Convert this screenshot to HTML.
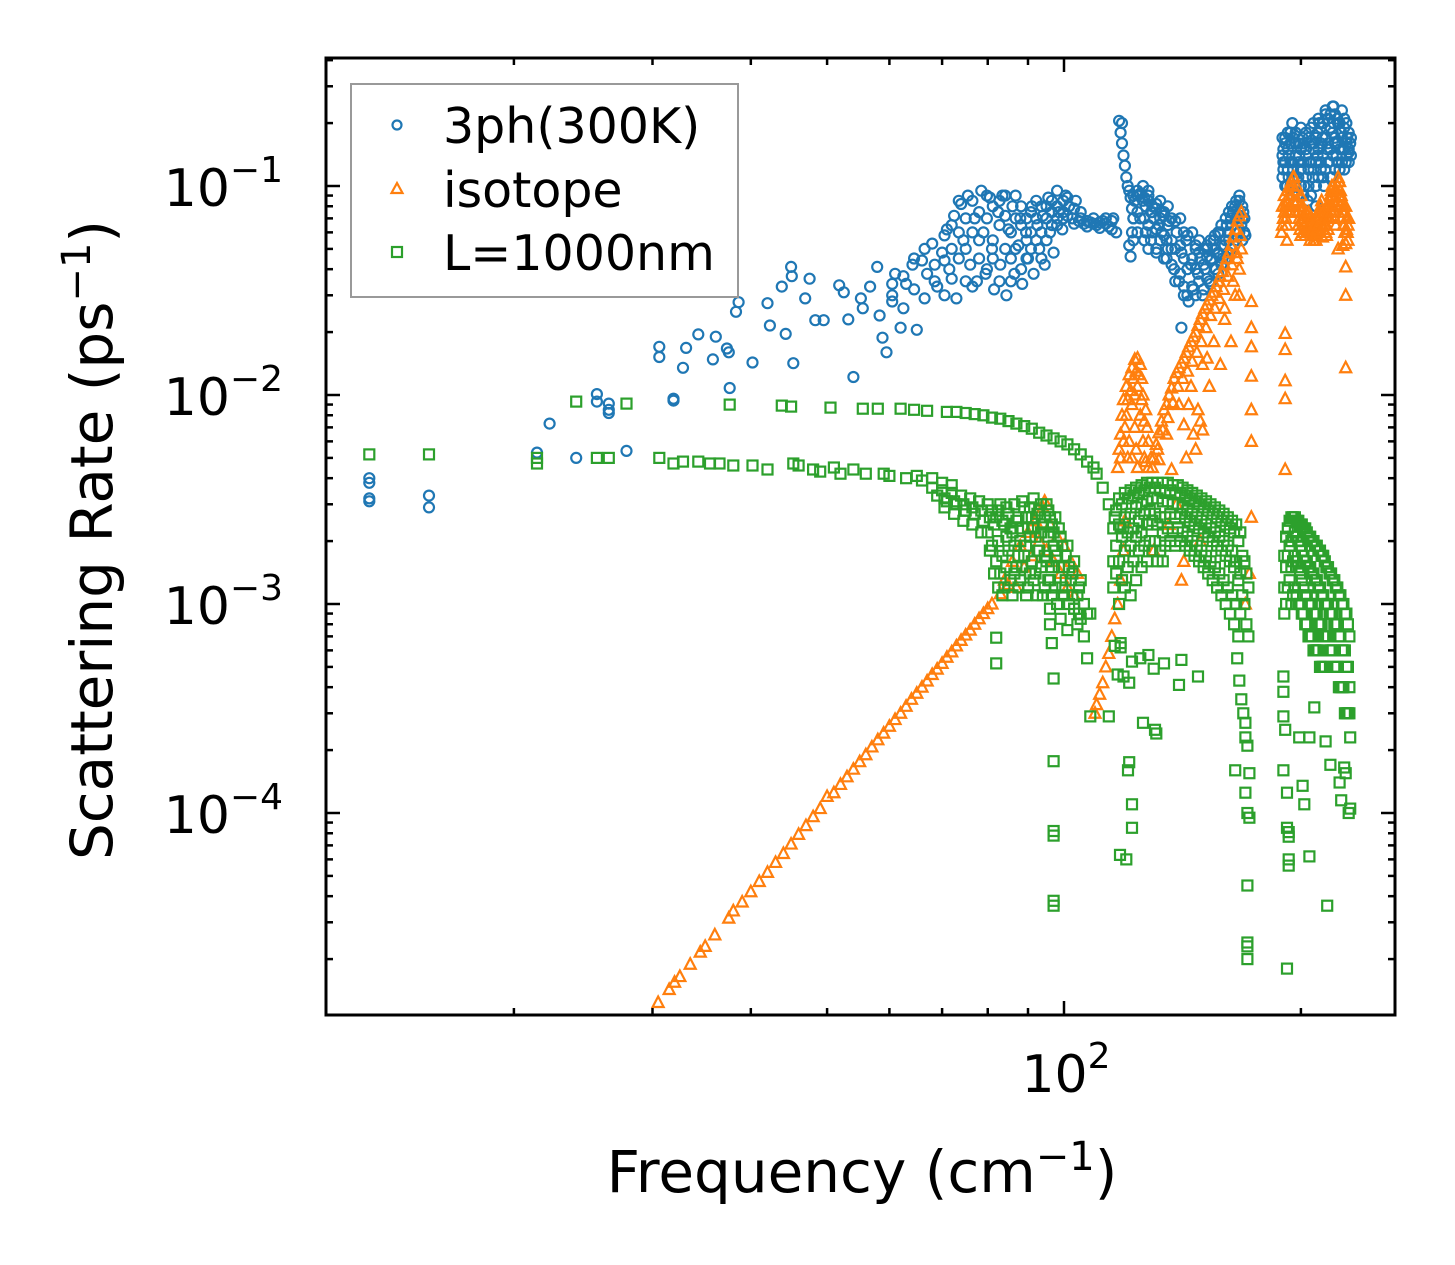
<!DOCTYPE html>
<html>
<head>
<meta charset="utf-8">
<style>
html,body{margin:0;padding:0;background:#fff;}
svg{display:block;}
text{font-family:"DejaVu Sans","Liberation Sans",sans-serif;fill:#000;}
</style>
</head>
<body>
<svg id="chart" width="1455" height="1265" viewBox="0 0 1455 1265" xmlns="http://www.w3.org/2000/svg">
  <rect x="0" y="0" width="1455" height="1265" fill="#fff"/>
  <g id="series"></g>
  <g id="axes"></g>
  <text x="862" y="1192" font-size="58" text-anchor="middle">Frequency (cm<tspan font-size="40" dy="-22">−1</tspan><tspan dy="22">)</tspan></text>
  <text transform="translate(112,540) rotate(-90)" font-size="58" text-anchor="middle">Scattering Rate (ps<tspan font-size="40" dy="-22">−1</tspan><tspan dy="22">)</tspan></text>
  <g>
    <rect x="351" y="84" width="387" height="213" fill="#fff" stroke="#999" stroke-width="2"/>
    <circle cx="397" cy="125" r="4.5" fill="none" stroke="#1f77b4" stroke-width="2.2"/>
    <text x="443" y="143" font-size="49">3ph(300K)</text>
    <polygon points="397,183 402.5,193 391.5,193" fill="none" stroke="#ff7f0e" stroke-width="2.2"/>
    <text x="443" y="207" font-size="49">isotope</text>
    <rect x="392" y="247" width="10" height="10" fill="none" stroke="#2ca02c" stroke-width="2.2"/>
    <text x="443" y="270" font-size="49">L=1000nm</text>
  </g>
</svg>
<script>
const threePh = [[13.1,.0040],[13.1,.0038],[13.1,.0032],[13.1,.0031],[15.6,.0033],[15.6,.0029],
[21.4,.0053],[22.2,.0073],[24.0,.0050],[25.5,.0101],[25.5,.0093],[26.4,.0091],[26.4,.0085],[26.4,.0082],[27.8,.0054],
[30.6,.0170],[30.6,.0152],[31.9,.0096],[31.9,.0094],[32.8,.0135],[33.1,.0168],[34.3,.0195],[35.8,.0148],[36.1,.0190],[37.3,.0167],[37.5,.0160],[37.6,.0108],[38.3,.0250],[38.6,.0278],[40.2,.0143],[42.0,.0275],[42.3,.0215],[43.8,.0330],[44.3,.0196],[45.0,.0410],[45.1,.0370],[45.3,.0142],[46.9,.0290],[47.5,.0360],[48.3,.0228],[49.5,.0228],[51.8,.0335],[52.5,.0310],[53.2,.0230],[54.0,.0122],[55.2,.0290],[55.5,.0260],[56.7,.0330],[57.9,.0410],[58.3,.0240],[58.8,.0188],[59.5,.0160],[60.5,.0300],[61.0,.0380],[62.0,.0210],[63.0,.0340],[64.2,.0420],[65.0,.0205],[66.0,.0440],[67.0,.0380],[68.0,.0530],[69.0,.0330],[70.0,.0480],[71.0,.0620],[71.5,.0400],[72.5,.0720],[73.0,.0290],[74.0,.0820],[74.5,.0550],[75.5,.0900],[76.0,.0420],[77.0,.0700],[77.5,.0350],[78.5,.0950],[79.0,.0600],[79.5,.0380],[80.5,.0880],[81.0,.0500],[81.5,.0320],[82.5,.0750],[83.0,.0420],[83.5,.0900],[84.5,.0300],[85.0,.0620],[86.0,.0800],[86.5,.0380],[87.5,.0520],[88.0,.0700],[88.5,.0340],[89.5,.0600],[90.0,.0450],[91.0,.0800],[91.5,.0380],[92.5,.0650],[93.0,.0500],[94.0,.0720],[94.5,.0420],[95.5,.0880],[96.0,.0600],[97.0,.0480],[98.0,.0950],[98.5,.0750],[99.5,.0620],[100.5,.0900],[101.5,.0800],[102.5,.0700],[103.5,.0850],[104.5,.0680],[106.0,.0660],[108.0,.0670],[110.0,.0650],[112.0,.0680],[114.0,.0640],[115.5,.0700],[116.5,.0600],
[117.5,.205],[118.5,.200],[118,.180],[118.5,.160],[119,.140],[119.5,.125],[120,.110],[120.5,.100],[121,.095],[121.5,.088],[122,.078],[122.5,.070],[122,.060],[121,.052],[121.5,.046],[123,.085],[124,.090],[125,.092],[126,.085],[127,.080],[128,.090],[129,.075],[130,.070],[131,.082],[132,.065],[133,.060],[134,.072],[135,.055],[135,.045],[136,.068],[137,.050],[138,.040],[139,.060],[140,.035],[141,.048],[142,.030],[143,.055],[144,.028],[145,.042],[146,.032],[147,.050],[148,.038],[149,.045],[150,.030],[151,.040],[152,.050],[153,.035],[154,.045],[155,.055],[156,.040],[157,.048],[158,.060],[159,.045],[160,.052],[161,.065],[162,.055],[163,.070],[164,.075],[165,.080],[166,.072],[167,.085],[168,.065],[169,.075],[170,.058],[141,.021],
[125,.070],[127,.060],[129,.055],[131,.050],[133,.075],[126,.100],[128,.095],
[190,.150],[190,.120],[191,.170],[192,.100],[193,.140],[194,.180],[195,.130],[196,.110],[197,.160],[198,.090],[199,.140],[200,.120],[201,.170],[202,.100],[203,.150],[204,.085],[205,.130],[206,.190],[207,.110],[208,.160],[209,.080],[210,.140],[211,.200],[212,.120],[213,.170],[214,.100],[215,.220],[216,.150],[217,.130],[218,.190],[219,.110],[220,.240],[221,.160],[222,.140],[223,.200],[224,.120],[225,.180],[226,.150],[227,.210],[228,.130],[229,.170],[230,.145],[231,.160],[195,.200],[193,.110],[190,.130],[210,.180],[220,.200]];

// rows: [frequency, rate, rate, ...]
const threePhDense = [[60.5,.034,.028],[62.5,.037,.026],[64.5,.032,.045],[66.5,.029,.050],[68.5,.042,.035],[70.5,.030,.058,.044],[72,.050,.036,.065],[73.5,.045,.060,.085],[75,.035,.050,.070],[76.5,.060,.085,.033],[78,.045,.075,.055],[79.8,.040,.070,.090],[81.2,.055,.080,.045],[82.8,.065,.035,.085],[84.2,.050,.072,.090],[85.6,.045,.060,.035],[86.8,.070,.050,.090],[88.2,.040,.065,.080],[89.6,.055,.070,.045],[90.8,.060,.075,.050],[92.2,.070,.055,.085],[93.6,.060,.080,.045],[95,.070,.055,.080],[96.5,.075,.065,.085],[98,.080,.065,.070],[99.8,.085,.070,.075],[101,.088,.072],[103,.078,.066],[105,.070,.075],[107,.068,.064],[109,.066,.070],[111,.067,.063],[113,.066,.070],[115,.068,.062],
[122.5,.055,.07,.09],[124,.06,.075,.095],[126.5,.055,.07,.088],[128,.05,.065,.085],[129.5,.06,.075,.08],[131,.048,.062,.078],[132.5,.055,.07,.085],[134,.045,.058,.075],[135.5,.05,.065,.08],[137,.042,.055,.07],[138.5,.035,.05,.068],[140.5,.038,.052,.07],[142,.033,.045,.06],[143.5,.03,.04,.058],[145.5,.033,.045,.06],[147,.03,.04,.052],[148.5,.035,.048,.055],[150.5,.032,.042,.05],[152,.036,.046,.052],[153.5,.034,.044,.055],[155.5,.04,.05,.058],[157,.038,.047,.06],[158.5,.042,.052,.065],[160.5,.045,.055,.07],[162,.048,.06,.075],[163.5,.05,.065,.08],[165.5,.055,.07,.085],[167,.06,.075,.09],[168.5,.055,.07,.08],[169.5,.06,.07],
[189.5,.11,.14,.17],[191,.10,.13,.16],[192.5,.12,.15,.18],[194,.10,.13,.16],[195.5,.09,.12,.17],[197,.10,.14,.18],[198.5,.11,.13,.16],[200,.10,.15,.19],[201.5,.09,.13,.16],[203,.11,.14,.18],[204.5,.10,.12,.17],[206,.09,.13,.16],[207.5,.12,.15,.20],[209,.10,.13,.17],[210.5,.11,.15,.21],[212,.13,.16,.19],[213.5,.11,.14,.20],[215,.12,.17,.23],[216.5,.13,.16,.21],[218,.11,.15,.22],[219.5,.14,.18,.24],[221,.12,.17,.22],[222.5,.13,.16,.21],[224,.12,.15,.20],[225.5,.13,.17,.23],[227,.12,.15,.19],[228.5,.14,.16,.20],[230,.13,.15,.18],[231.5,.14,.17]];

const isotope = [[30.5,1.24e-5],[31.5,1.43e-5],[32.5,1.65e-5],[33.5,1.89e-5],[34.5,2.16e-5],[36,2.61e-5],[37.5,3.14e-5],[39,3.75e-5],[41,4.7e-5],[43,5.8e-5],[45,7.1e-5],[47,8.7e-5],[49,1.05e-4],[51,1.25e-4],[53,1.49e-4],[55,1.76e-4],[57,2.07e-4],[59,2.41e-4],[61,2.8e-4],[63,3.24e-4],[65,3.74e-4],[67,4.28e-4],[69,4.88e-4],[71,5.56e-4],[73,6.3e-4],[75,7.1e-4],[77,8.0e-4],[79,9.0e-4],[81,1.0e-3],[83,1.12e-3],[85,1.24e-3],
[50,1.2e-4],[56,1.9e-4],[62,3.0e-4],[68,4.6e-4],[74,6.7e-4],[78,8.5e-4],[80,9.5e-4],[32,1.55e-5],[35,2.3e-5],[38,3.4e-5],[40,4.2e-5],[42,5.2e-5],[44,6.4e-5],[46,7.9e-5],[48,9.6e-5],[52,1.37e-4],[54,1.62e-4],[58,2.24e-4],[60,2.6e-4],[64,3.5e-4],[66,4.0e-4],[70,5.2e-4],[72,5.9e-4],[76,7.5e-4],
[84,.0013],[86,.0016],[87,.0012],[88,.0019],[89,.0015],[90,.0022],[91,.0017],[92,.0025],[93,.0020],[94,.0029],[95,.0018],[96,.0024],[97,.0016],[98,.0021],[99,.0014],[100,.0019],[101,.0012],[102,.0016],[103,.0011],[104,.0014],[94.5,.0031],
[109.5,.00030],[110,.00033],[111,.00037],[112,.00042],[113,.00050],[114,.00058],[115,.00070],[116,.00085],[117,.0010],[118,.0013],[119,.0018],[119.5,.0025],
[117,.0045],[117.5,.0055],[118,.0065],[118.5,.0080],[119,.0095],[120,.0110],[121,.0125],[122,.0135],[123,.0148],[124,.0150],[125,.0140],[125.5,.0120],[126,.0100],[127,.0085],[127.5,.0070],[128,.0060],[129,.0050],[129.5,.0045],[120,.0080],[121,.0060],[122,.0090],[123,.0070],[124,.0110],[125,.0080],[126,.0060],[122,.0050],[124,.0045],[119,.0060],[123,.0100],[128,.0045],
[118,.0050],[119.5,.0070],[120.5,.0095],[121.5,.0105],[122.5,.0120],[123.5,.0130],[124.5,.0125],[125.5,.0095],[126.5,.0075],[120.5,.0050],[123.5,.0055],[126.5,.0050],[127,.0048],
[130,.0050],[131,.0058],[132,.0066],[133,.0075],[134,.0085],[135,.0090],[136,.0100],[137,.0108],[138,.0120],[139,.0128],[140,.0135],[141,.0142],[142,.0150],[143,.0160],[144,.0170],[145,.0180],[146,.0190],[147,.0200],[148,.0215],[149,.0230],[150,.0245],[151,.0260],[152,.0270],[153,.0285],[154,.0300],[155,.0310],[156,.0330],[157,.0350],[158,.0370],[159,.0390],[160,.0420],[161,.0450],[162,.0480],[163,.0520],[164,.0570],[165,.0620],[166,.0680],[167,.0720],[168,.0750],
[135,.0065],[140,.0090],[145,.0110],[150,.0140],[155,.0180],[160,.0230],[165,.0300],[142,.0072],[148,.0085],[153,.011],[158,.014],[163,.018],[167,.030],[167,.040],[168,.050],
[131.5,.0055],[133.5,.0068],[135.5,.0078],[137.5,.0092],[139.5,.011],[141.5,.012],[143.5,.013],[145.5,.0145],[147.5,.016],[149.5,.018],[151.5,.021],[153.5,.024],[155.5,.026],[157.5,.029],[159.5,.032],[161.5,.037],[163.5,.042],[165.5,.048],[167.5,.058],[144,.009],[152,.015],[160,.026],[164,.035],[166,.045],
[143,.0050],[146,.0065],[147,.0055],[149,.0075],[150,.0068],[132,.0049],[137,.0044],[130,.0018],[141,.0013],[142,.0016],[136,.0024],[149,.0020],[139,.0030],
[189,.060],[190,.070],[191,.080],[192,.065],[193,.090],[194,.075],[195,.100],[196,.110],[197,.095],[198,.085],[199,.070],[200,.090],[201,.080],[202,.065],[203,.075],[204,.060],[205,.070],[206,.065],[207,.058],[208,.060],[209,.055],[210,.060],[211,.070],[212,.080],[213,.065],[214,.075],[215,.060],[216,.070],[217,.080],[218,.090],[219,.100],[220,.085],[221,.070],[222,.095],[223,.110],[224,.105],[225,.090],[226,.075],[227,.065],[228,.080],[229,.060],[230,.070],[192,.055],[200,.058],[213,.057],[223,.050],[226,.052],
[191,.0197],[191,.0165],[191,.0117],[191,.0096],[191,.0044],[228,.053],[228,.041],[228,.030],[228,.0135],[173,.028],[173,.021],[173,.017],[173,.0123],[173,.0085],[173,.006],[173,.0026],[170,.0010],[172,.0014]];

const isotopeDense = [[189.5,.065,.08],[190.5,.075,.09],[191.5,.085,.07],[192.5,.095,.075],[193.5,.08,.10],[194.5,.09,.105],[195.5,.085,.11],[196.5,.095,.075],[197.5,.085,.10],[198.5,.075,.065],[199.5,.08,.062],[200.5,.075,.068],[201.5,.07,.06],[202.5,.072,.058],[203.5,.068,.062],[204.5,.065,.075],[205.5,.06,.055],[206.5,.06,.07],[207.5,.065,.055],[208.5,.058,.065],[209.5,.062,.07],[210.5,.065,.075],[211.5,.075,.06],[212.5,.085,.07],[213.5,.075,.062],[214.5,.07,.065],[215.5,.065,.058],[216.5,.075,.062],[217.5,.085,.07],[218.5,.095,.075],[219.5,.09,.08],[220.5,.095,.075],[221.5,.08,.065],[222.5,.10,.085],[223.5,.105,.09],[224.5,.095,.08],[225.5,.085,.07],[226.5,.08,.065],[227.5,.075,.06],[228.5,.07,.062],[229.5,.065,.055]];

const boundary = [[13.1,.0052],[15.6,.0052],[21.4,.0050],[21.4,.0047],[24.0,.0093],[25.5,.0050],[26.4,.0050],[27.8,.0091],[30.6,.0050],[31.9,.0047],[32.8,.0048],[34.3,.0048],[35.5,.0047],[36.5,.0047],[37.6,.0090],[38,.0046],[40.2,.0046],[42,.0044],[43.8,.0089],[45,.0088],[45.3,.0047],[46,.0046],[48,.0044],[49,.0043],[50.5,.0087],[51,.0045],[52,.0042],[54,.0044],[55.5,.0086],[56,.0042],[58,.0086],[59,.0042],[60,.0041],[62,.0086],[63,.0040],[64.5,.0085],[65,.0041],[66,.0039],[67,.0084],[68,.0040],[70,.0038],[71,.0083],[72,.0037],[73,.0083],[75,.0082],[77,.0081],[79,.0080],[81,.0078],[83,.0077],[85,.0075],[87,.0073],[89,.0071],[91,.0069],[93,.0066],[95,.0064],[97,.0062],[99,.0060],[101,.0058],[103,.0055],[105,.0052],[107,.0048],[109,.0045],[110,.0042],[112,.0036],[114,.0030],[116,.0026],[118,.0023],
[68,.0036],[69,.0033],[70,.0035],[71,.0031],[72,.0034],[73,.0030],[74,.0033],[75,.0028],[76,.0032],[77,.0027],[78,.0031],[79,.0025],[80,.0030],[80,.0022],[81,.0028],[81,.0019],[82,.0026],[82,.0016],[83,.0030],[83,.0014],[84,.0024],[84,.0012],[85,.0027],[85,.0018],[86,.0022],[86,.0011],[87,.0025],[87,.0015],[88,.0020],[88,.0013],[89,.0029],[89,.0017],[90,.0023],[90,.0012],[91,.0026],[91,.0016],[92,.0021],[92,.0014],[93,.0028],[93,.0018],[94,.0024],[94,.0011],[95,.0030],[95,.0016],[96,.0026],[96,.0013],[97,.0022],[97,.0019],[98,.0017],[98,.0010],[99,.0021],[99,.00085],[100,.0015],[100,.0011],[101,.0019],[101,.00075],[102,.0013],[103,.0016],[103,.00095],[104,.0011],[105,.0013],[105,.00085],[106,.0010],[107,.0009],
[82,.00069],[82,.00052],[96,.00095],[96,.0008],[96.5,.00065],[97,.00044],[97,.000177],[97,.000082],[97,.000078],[97,.000038],[97,.000036],[103,.00095],[104,.0008],[106,.0007],[107,.00055],[108,.0009],[108,.00029],
[118,.00062],[119,.00045],[116,.00063],[117,.00046],[114,.00029],[120.6,.00016],[122,.00011],[121,.000175],[122,.000085],[117.8,.000063],[120,.00006],[118,.00065],[121,.00042],[122,.00053],[125,.00055],[128,.00057],[130,.00049],[130.5,.00025],[131,.00024],[126,.00027],[140,.00041],[141,.00054],[148,.00045],[134,.00052],
[166,.00055],[167,.00043],[168,.00035],[169,.00030],[170,.00027],[170,.00023],[171,.00021],[172,.000155],[170,.000125],[171,.000100],[172,.000095],[171,.000045],[171,.000024],[171,.000023],[171,.00002],[165,.00016],
[190,.00045],[190,.00038],[190,.00029],[191,.00025],[190,.00016],[192,.000125],[192,.000085],[193,.000081],[193,.000077],[193,.00006],[193,.000056],[192,.000018],[199,.00023],[201,.000135],[202,.00011],[205,.00023],[208,.00032],[215,.00022],[218,.00017],[205,.000062],[224,.00014],[225,.000115],[227,.000165],[228,.000155],[230,.0001],[216,.000036],[231,.000105],[231,.00023]];

const boundaryDense = [[70.5,.0032,.0029],[72.5,.0031,.0027],[74.5,.0030,.0025],[76.5,.0029,.0024],[78.5,.0028,.0022],[80.5,.0026,.0018],[81.5,.0024,.0014],[82.5,.0028,.0020,.0012],[83.5,.0025,.0017,.0011],[84.5,.0029,.0021,.0015],[85.5,.0023,.0013],[86.5,.0030,.0019,.0014],[87.5,.0026,.0017,.0012],[88.5,.0031,.0023,.0015],[89.5,.0026,.0019,.0011],[90.5,.0029,.0021,.0014],[91.5,.0032,.0023,.0013],[92.5,.0027,.0018,.0011],[93.5,.0030,.0022,.0015],[94.5,.0026,.0017,.0012],[95.5,.0028,.0021,.0013],[96.5,.0024,.0015,.0011],[97.5,.0026,.0018,.0012],[98.5,.0023,.0015],[99.5,.0019,.0012],[100.5,.0017,.0013],[101.5,.0015,.0010],[102.5,.0014,.0011],[104.5,.0012,.0009],
[115.5,.0023,.0016,.0012],[116.5,.0028,.0019,.0014],[117.5,.0032,.0024,.0016,.0010],[118.5,.0030,.0021,.0013],[119.5,.0034,.0026,.0018,.0012],[120.5,.0032,.0022,.0015],[121.5,.0035,.0027,.0019,.0011],[122.5,.0033,.0023,.0016],[123.5,.0036,.0029,.0021,.0013],[124.5,.0034,.0025,.0018],[125.5,.0037,.0030,.0022,.0015],[126.5,.0035,.0027,.0019],[127.5,.0038,.0031,.0024,.0016],[128.5,.0036,.0028,.0020],[129.5,.0038,.0032,.0025,.0018],[130.5,.0036,.0027,.0020],[131.5,.0038,.0032,.0024,.0016],[132.5,.0035,.0026,.0018],[133.5,.0038,.0031,.0022,.0016],[134.5,.0034,.0026,.0019],[135.5,.0038,.0031,.0023],[136.5,.0035,.0027,.0020],[137.5,.0037,.0030,.0022],[138.5,.0034,.0026,.0019],[139.5,.0037,.0030,.0023],[140.5,.0034,.0027,.0020],[141.5,.0036,.0029,.0022],[142.5,.0033,.0026,.0019],[143.5,.0035,.0028,.0021],[144.5,.0032,.0025,.0018],[145.5,.0034,.0027,.0020],[146.5,.0031,.0024,.0017],[147.5,.0033,.0026,.0019],[148.5,.0030,.0023,.0016],[149.5,.0032,.0025,.0018],[150.5,.0029,.0022,.0015],[151.5,.0031,.0024,.0017],[152.5,.0028,.0021,.0014],[153.5,.0030,.0023,.0016],[154.5,.0027,.0020,.0013],[155.5,.0029,.0022,.0015],[156.5,.0026,.0019,.0012],[157.5,.0028,.0021,.0014],[158.5,.0025,.0018,.0011],[159.5,.0027,.0020,.0013],[160.5,.0024,.0017,.0010],[161.5,.0026,.0019,.0012],[162.5,.0023,.0016,.0009],[163.5,.0025,.0018,.0011],[164.5,.0022,.0015,.0008],[165.5,.0024,.0016,.0010],[166.5,.0020,.0013,.0007],[167.5,.0022,.0014,.0009],[168.5,.0017,.0011],[169.5,.0016,.0010],[170.5,.0014,.0008],[171.5,.0012,.0007],
[190.5,.0017,.0012,.0009],[191.5,.0021,.0015,.0010],[192.5,.0023,.0017,.0012],[193.5,.0025,.0019,.0013],[194.5,.0026,.0020,.0015,.0010],[195.5,.0026,.0021,.0016,.0011],[196.5,.0026,.0022,.0017,.0012],[197.5,.0025,.0021,.0016,.0011],[198.5,.0025,.0020,.0015,.0010],[199.5,.0024,.0019,.0014,.0010],[200.5,.0024,.0018,.0013,.0009],[201.5,.0023,.0017,.0012,.0009],[202.5,.0023,.0016,.0011,.0008],[203.5,.0022,.0016,.0011,.0008],[204.5,.0021,.0015,.0010,.0007],[205.5,.0021,.0015,.0010,.0007],[206.5,.0020,.0014,.0010,.0007],[207.5,.0020,.0014,.0009,.0006],[208.5,.0019,.0013,.0009,.0006],[209.5,.0019,.0013,.0009,.0006],[210.5,.0018,.0012,.0008,.0006],[211.5,.0018,.0012,.0008,.0005],[212.5,.0017,.0011,.0008,.0005],[213.5,.0017,.0011,.0007,.0005],[214.5,.0016,.0010,.0007,.0005],[215.5,.0015,.0010,.0007],[216.5,.0015,.0010,.0007],[217.5,.0014,.0009,.0006],[218.5,.0014,.0009,.0006],[219.5,.0013,.0009,.0006],[220.5,.0013,.0008,.0005],[221.5,.0012,.0008,.0005],[222.5,.0012,.0008,.0005],[223.5,.0011,.0007,.0004],[224.5,.0011,.0007,.0004],[225.5,.0010,.0006,.0004],[226.5,.0010,.0006,.0004],[227.5,.0009,.0006,.0003],[228.5,.0009,.0005,.0003],[229.5,.0008,.0005,.0003],[230.5,.0007,.0004,.0003]];

const yMajorTicks = [1e-1, 1e-2, 1e-3, 1e-4];
const yTickLabels = ["−1", "−2", "−3", "−4"];
const xMajorTicks = [100];
const xTickLabels = ["2"];
const xMinorTicks = [20, 30, 40, 50, 60, 70, 80, 90, 200];

const NS = "http://www.w3.org/2000/svg";
const L = 326, R = 1395, T = 58, B = 1015;
const logXmin = 2 - (1064 - L) / 787, logXmax = 2 + (R - 1064) / 787;
const logYmax = -1 + (186 - T) / 209, logYmin = -1 - (B - 186) / 209;
function xScale(f) { return L + (Math.log10(f) - logXmin) / (logXmax - logXmin) * (R - L); }
function yScale(r) { return T + (logYmax - Math.log10(r)) / (logYmax - logYmin) * (B - T); }
function mk(tag, attrs) { const e = document.createElementNS(NS, tag); for (const k in attrs) e.setAttribute(k, attrs[k]); return e; }
function expand(pairs, rows) {
  const out = pairs.slice();
  rows.forEach(function (row) { for (let i = 1; i < row.length; i++) out.push([row[0], row[i]]); });
  return out;
}

const series = document.getElementById('series');
const clip = mk('clipPath', { id: 'plotclip' });
clip.appendChild(mk('rect', { x: L, y: T, width: R - L, height: B - T }));
series.appendChild(clip);

const gBlue = mk('g', { 'clip-path': 'url(#plotclip)', fill: 'none', stroke: '#1f77b4', 'stroke-width': 2.2 });


series.appendChild(gBlue);
expand(threePh, threePhDense).forEach(function (p) {
  const c = mk('circle', { cx: xScale(p[0]).toFixed(1), cy: yScale(p[1]).toFixed(1), r: 5 });
  
  
  gBlue.appendChild(c);
});

const gOr = mk('g', { 'clip-path': 'url(#plotclip)', fill: 'none', stroke: '#ff7f0e', 'stroke-width': 2.2 });


series.appendChild(gOr);
expand(isotope, isotopeDense).forEach(function (p) {
  const x = xScale(p[0]), y = yScale(p[1]);
  const t = mk('polygon', { points: x + ',' + (y - 6) + ' ' + (x + 5.5) + ',' + (y + 4.5) + ' ' + (x - 5.5) + ',' + (y + 4.5) });
  
  
  gOr.appendChild(t);
});

const gGr = mk('g', { 'clip-path': 'url(#plotclip)', fill: 'none', stroke: '#2ca02c', 'stroke-width': 2.2 });


series.appendChild(gGr);
expand(boundary, boundaryDense).forEach(function (p) {
  const s = mk('rect', { x: (xScale(p[0]) - 5).toFixed(1), y: (yScale(p[1]) - 5).toFixed(1), width: 10, height: 10 });
  
  
  gGr.appendChild(s);
});

const axes = document.getElementById('axes');
function tick(x1, y1, x2, y2, name) {
  const l = mk('line', { x1: x1, y1: y1, x2: x2, y2: y2, stroke: '#000', 'stroke-width': 2.5 });
  
  
  axes.appendChild(l);
}
yMajorTicks.forEach(function (v, i) {
  const y = yScale(v);
  tick(L, y, L + 14, y, 'y-major-tick');
  tick(R, y, R - 14, y, 'y-major-tick-right');
  const t = mk('text', { x: 283, y: y + 20, 'font-size': 52, 'text-anchor': 'end' });
  
  
  t.innerHTML = '10<tspan font-size="36" dy="-24">' + yTickLabels[i] + '</tspan>';
  axes.appendChild(t);
});
for (let d = -5; d <= 0; d++) {
  for (let m = 2; m <= 9; m++) {
    const v = m * Math.pow(10, d);
    const lv = Math.log10(v);
    if (lv < logYmin || lv > logYmax) continue;
    const y = yScale(v);
    tick(L, y, L + 7, y, 'y-minor-tick');
    tick(R, y, R - 7, y, 'y-minor-tick-right');
  }
}
xMajorTicks.forEach(function (v, i) {
  const x = xScale(v);
  tick(x, B, x, B - 14, 'x-major-tick');
  tick(x, T, x, T + 14, 'x-major-tick-top');
  const t = mk('text', { x: x + 2, y: 1092, 'font-size': 52, 'text-anchor': 'middle' });
  
  
  t.innerHTML = '10<tspan font-size="36" dy="-24">' + xTickLabels[i] + '</tspan>';
  axes.appendChild(t);
});
xMinorTicks.forEach(function (v) {
  const x = xScale(v);
  tick(x, B, x, B - 7, 'x-minor-tick');
  tick(x, T, x, T + 7, 'x-minor-tick-top');
});
const frame = mk('rect', { x: L, y: T, width: R - L, height: B - T, fill: 'none', stroke: '#000', 'stroke-width': 3 });


axes.appendChild(frame);
</script>
</body>
</html>
